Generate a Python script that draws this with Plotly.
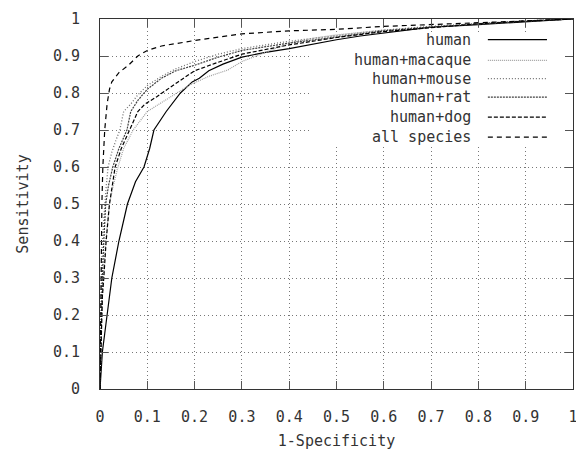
import plotly.graph_objects as go

# ---- data ----
human_x = [0, 0.002, 0.005, 0.01, 0.015, 0.025, 0.04, 0.058, 0.075, 0.093, 0.105, 0.114, 0.14, 0.17, 0.195, 0.21, 0.23, 0.26, 0.3, 0.35, 0.4, 0.45, 0.5, 0.55, 0.6, 0.65, 0.7, 0.8, 0.9, 0.97, 1]
human_y = [0, 0.05, 0.1, 0.15, 0.2, 0.3, 0.4, 0.5, 0.56, 0.6, 0.65, 0.7, 0.75, 0.8, 0.83, 0.84, 0.86, 0.878, 0.897, 0.91, 0.92, 0.933, 0.944, 0.954, 0.962, 0.97, 0.978, 0.985, 0.992, 0.998, 1]

macaque_x = [0, 0.002, 0.004, 0.008, 0.012, 0.02, 0.028, 0.038, 0.05, 0.07, 0.085, 0.1, 0.125, 0.15, 0.19, 0.23, 0.27, 0.3, 0.35, 0.4, 0.45, 0.5, 0.6, 0.7, 0.8, 0.9, 1]
macaque_y = [0, 0.12, 0.22, 0.32, 0.4, 0.5, 0.55, 0.6, 0.65, 0.7, 0.725, 0.75, 0.77, 0.79, 0.822, 0.845, 0.862, 0.885, 0.91, 0.935, 0.948, 0.957, 0.97, 0.98, 0.988, 0.995, 1]

mouse_x = [0, 0.001, 0.003, 0.005, 0.008, 0.012, 0.017, 0.025, 0.033, 0.042, 0.05, 0.065, 0.08, 0.1, 0.13, 0.16, 0.2, 0.25, 0.3, 0.4, 0.5, 0.6, 0.7, 0.8, 0.9, 1]
mouse_y = [0, 0.15, 0.3, 0.4, 0.47, 0.53, 0.6, 0.64, 0.67, 0.7, 0.75, 0.77, 0.795, 0.82, 0.845, 0.865, 0.885, 0.905, 0.92, 0.94, 0.955, 0.97, 0.98, 0.988, 0.995, 1]

rat_x = [0, 0.002, 0.005, 0.008, 0.012, 0.018, 0.027, 0.04, 0.057, 0.065, 0.08, 0.1, 0.13, 0.16, 0.2, 0.25, 0.3, 0.4, 0.5, 0.6, 0.7, 0.8, 0.9, 1]
rat_y = [0, 0.15, 0.3, 0.4, 0.5, 0.55, 0.6, 0.65, 0.7, 0.75, 0.78, 0.81, 0.84, 0.86, 0.875, 0.897, 0.915, 0.935, 0.952, 0.968, 0.978, 0.987, 0.994, 1]

dog_x = [0, 0.002, 0.005, 0.008, 0.013, 0.02, 0.032, 0.045, 0.063, 0.08, 0.095, 0.12, 0.165, 0.2, 0.243, 0.3, 0.4, 0.5, 0.6, 0.7, 0.8, 0.9, 1]
dog_y = [0, 0.12, 0.25, 0.3, 0.4, 0.5, 0.6, 0.65, 0.7, 0.75, 0.77, 0.79, 0.83, 0.86, 0.88, 0.905, 0.93, 0.95, 0.966, 0.977, 0.987, 0.994, 1]

all_x = [0, 0.001, 0.002, 0.004, 0.006, 0.008, 0.01, 0.015, 0.02, 0.025, 0.04, 0.06, 0.08, 0.1, 0.13, 0.2, 0.25, 0.3, 0.4, 0.5, 0.6, 0.7, 0.8, 0.9, 1]
all_y = [0, 0.2, 0.35, 0.5, 0.6, 0.66, 0.7, 0.77, 0.81, 0.83, 0.855, 0.875, 0.9, 0.915, 0.927, 0.942, 0.95, 0.96, 0.968, 0.972, 0.98, 0.985, 0.99, 0.995, 1]

series_names = ["human", "human+macaque", "human+mouse", "human+rat", "human+dog", "all species"]
tick_vals = [0, 0.1, 0.2, 0.3, 0.4, 0.5, 0.6, 0.7, 0.8, 0.9, 1]
tick_text = ["0", "0.1", "0.2", "0.3", "0.4", "0.5", "0.6", "0.7", "0.8", "0.9", "1"]

series_data = [(human_x, human_y), (macaque_x, macaque_y), (mouse_x, mouse_y),
               (rat_x, rat_y), (dog_x, dog_y), (all_x, all_y)]
styles = [
    dict(color="#000000", dash="solid", width=1.2),
    dict(color="#a0a0a0", dash="1px,1px", width=1.2),
    dict(color="#707070", dash="1px,2px", width=1.3),
    dict(color="#404040", dash="2px,1px", width=1.2),
    dict(color="#000000", dash="4px,2px", width=1.2),
    dict(color="#000000", dash="5px,4px", width=1.2),
]

FONT = "DejaVu Sans Mono"
TXT = "#333333"
fig = go.Figure()
for name, (xs, ys), st in zip(series_names, series_data, styles):
    fig.add_trace(go.Scatter(x=xs, y=ys, mode="lines", name=name, line=st, showlegend=False))

# custom gnuplot-style key: text right-aligned, sample on the right
shapes = [dict(type="rect", xref="x", yref="y", x0=0.445, x1=0.985, y0=0.655, y1=0.958,
               fillcolor="white", line=dict(width=0), layer="between")]
annotations = []
row_y = [0.944, 0.888, 0.839, 0.789, 0.735, 0.681]
for name, st, yy in zip(series_names, styles, row_y):
    annotations.append(dict(x=0.788, y=yy, xref="x", yref="y", text=name, showarrow=False,
                            xanchor="right", yanchor="middle",
                            font=dict(family=FONT, size=15, color=TXT)))
    shapes.append(dict(type="line", xref="x", yref="y", x0=0.82, x1=0.945, y0=yy, y1=yy,
                       line=dict(color=st["color"], dash=st["dash"], width=st["width"]),
                       layer="above"))

axis_common = dict(
    range=[0, 1], tickvals=tick_vals, ticktext=tick_text, automargin=False,
    showgrid=True, gridcolor="#777777", griddash="1px,3px", gridwidth=1,
    zeroline=False, showline=True, linecolor="#333333", linewidth=1, mirror="ticks",
    ticks="inside", ticklen=8, tickcolor="#555555",
    tickfont=dict(family=FONT, size=15, color=TXT),
)

fig.update_layout(
    width=576, height=443,
    margin=dict(l=92, r=11, t=11, b=62),
    plot_bgcolor="white", paper_bgcolor="white",
    xaxis=dict(**axis_common, ticklabelstandoff=14,
               title=dict(text="1-Specificity", standoff=10,
                          font=dict(family=FONT, size=15, color=TXT))),
    yaxis=dict(**axis_common, ticklabelstandoff=16,
               title=dict(text="Sensitivity", standoff=20,
                          font=dict(family=FONT, size=15, color=TXT))),
    shapes=shapes, annotations=annotations,
)

fig.write_html("out.html")
